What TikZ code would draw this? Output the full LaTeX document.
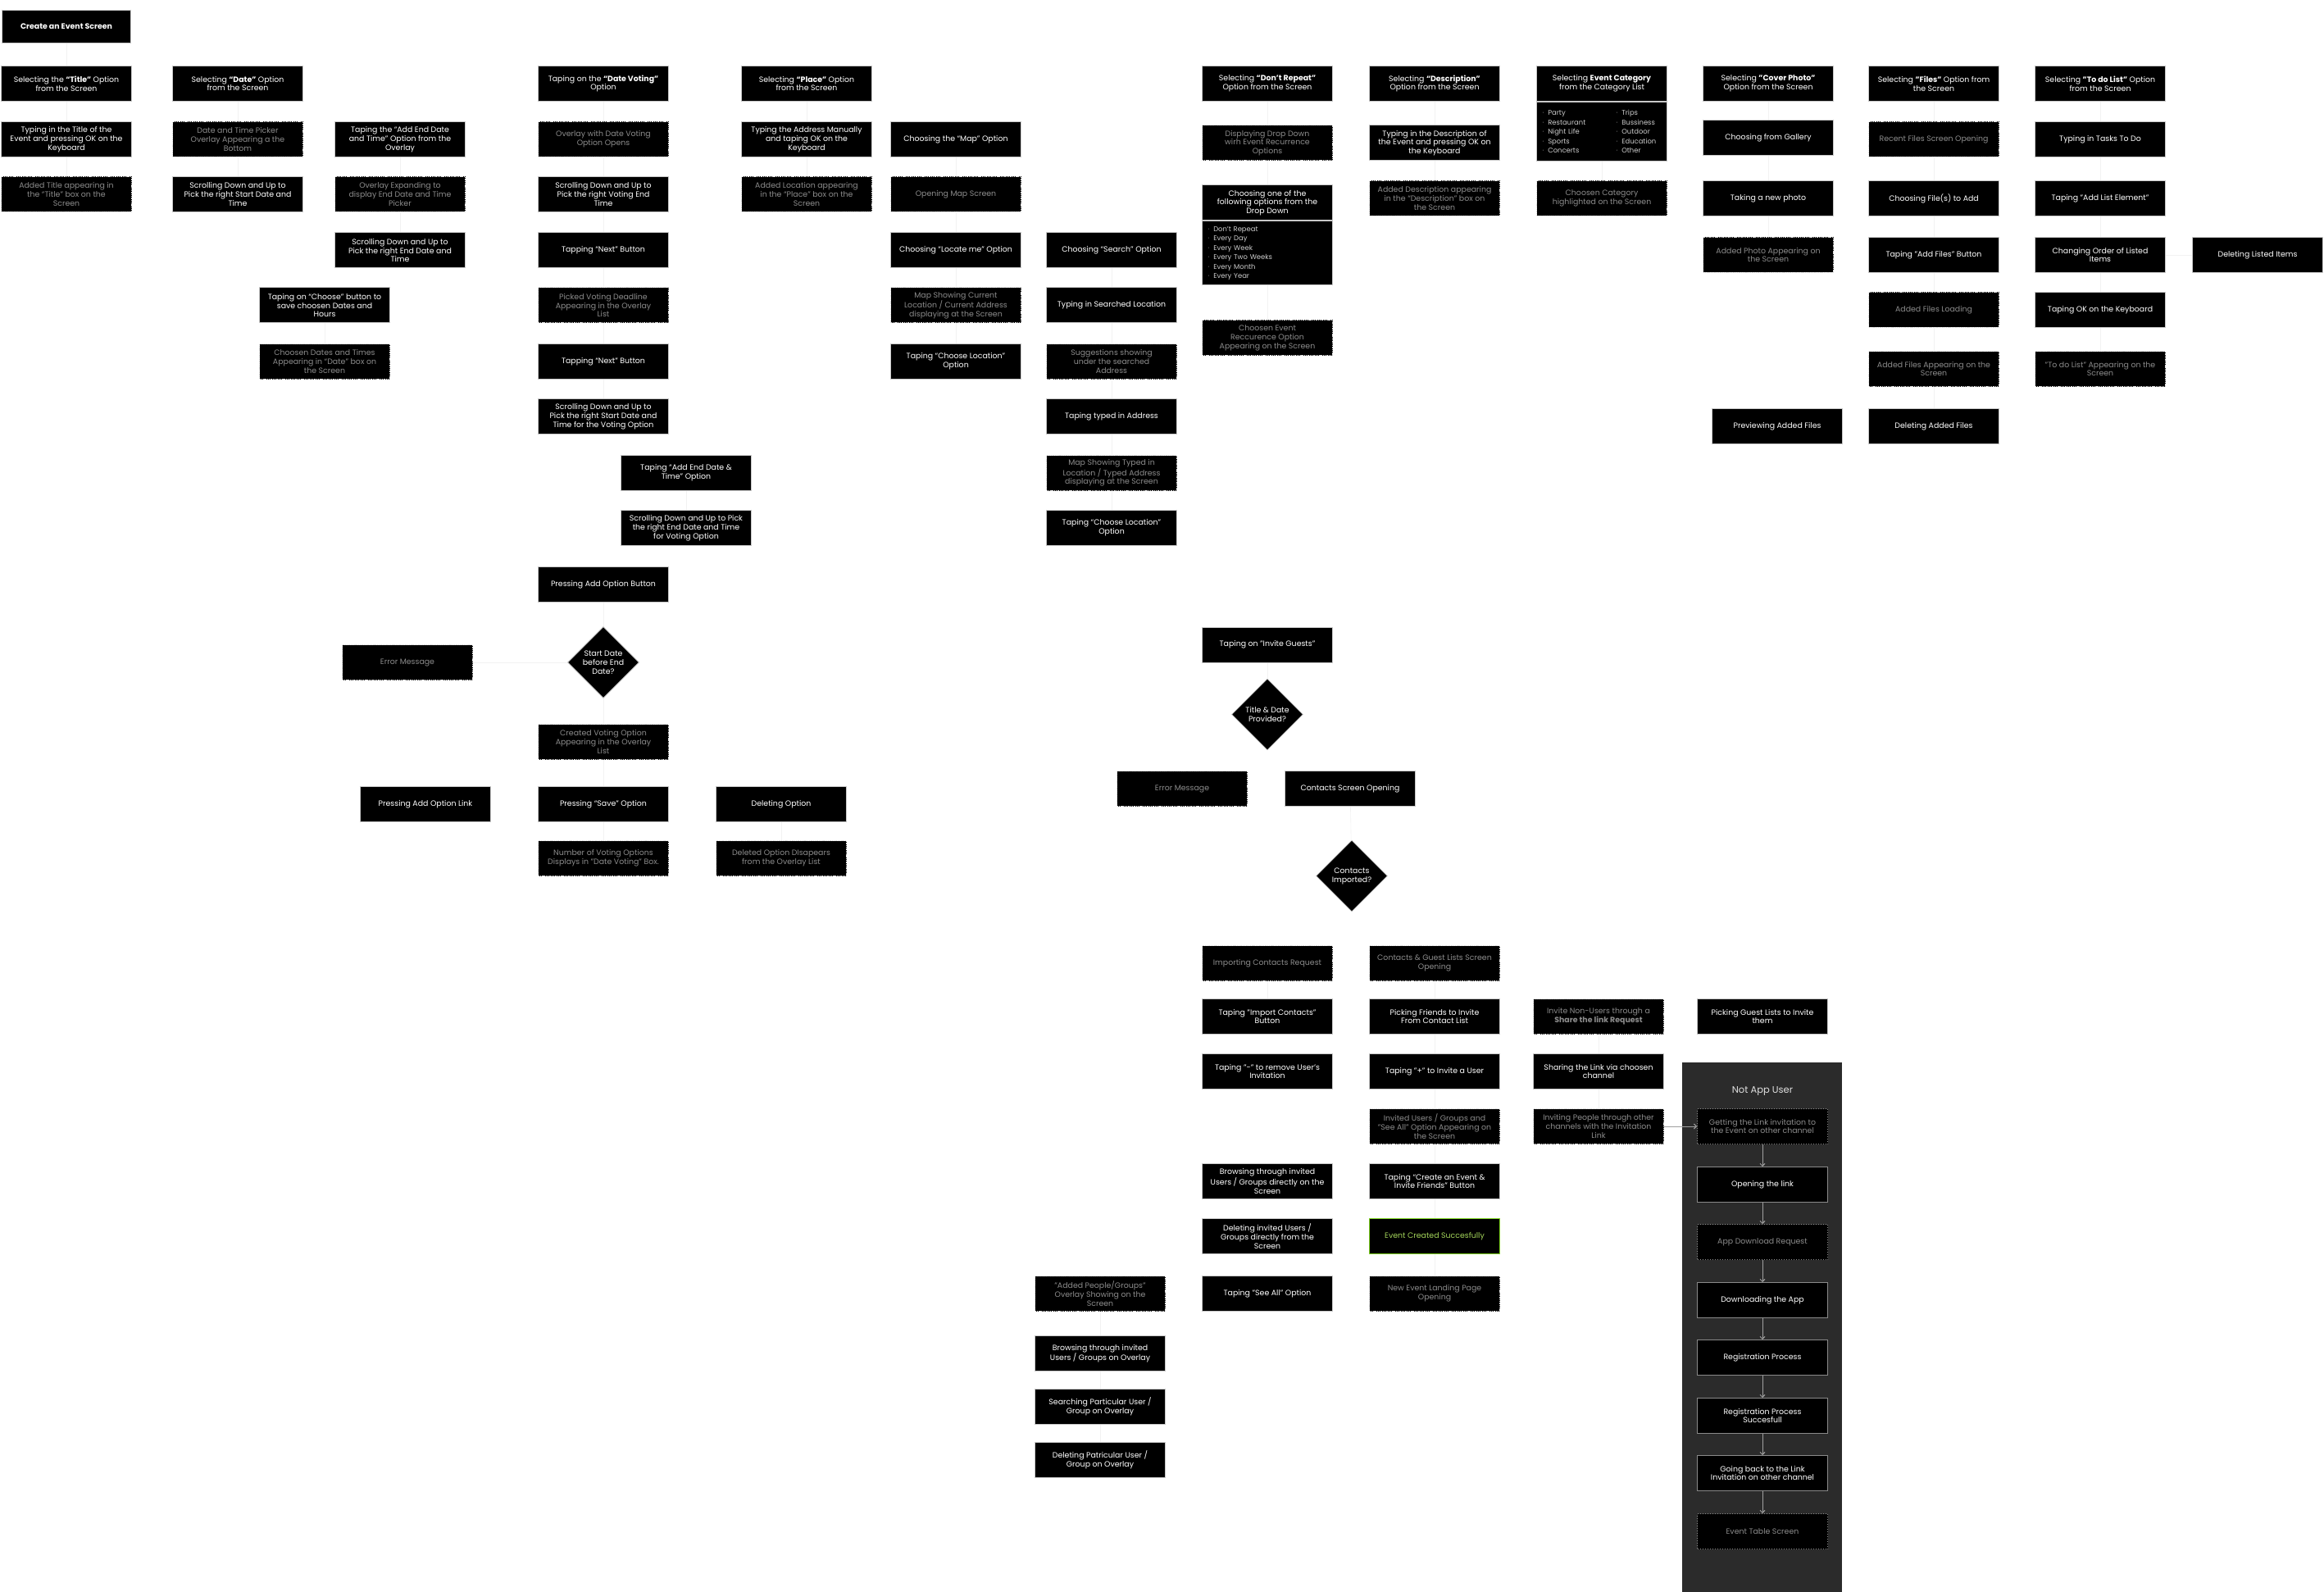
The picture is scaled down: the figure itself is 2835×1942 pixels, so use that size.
\documentclass[tikz,border=0pt]{standalone}
\usepackage{fontspec}
\setmainfont{Poppins}
\usetikzlibrary{shapes.geometric,positioning,arrows.meta}

\definecolor{boxline}{HTML}{C8C8C8}
\definecolor{notetext}{HTML}{8C8C8C}
\definecolor{okline}{HTML}{7ED321}
\definecolor{oktext}{HTML}{A3D45A}
\definecolor{panelfill}{HTML}{2B2B2B}
\definecolor{panelline}{HTML}{8A8A8A}
\definecolor{flowgray}{HTML}{A0A0A0}

\newcommand\boxfont{\fontsize{9.4}{10.8}\selectfont}
\newcommand\listfont{\fontsize{8.4}{11.5}\selectfont}
\newcommand\dotitem{{\color{notetext}·}\hspace{5pt}}

\tikzset{
  stepbox/.style={draw=boxline, fill=black, line width=1pt, text=white,
    minimum width=159pt, minimum height=43pt, inner sep=1pt,
    align=center, font=\boxfont},
  notebox/.style={stepbox, draw=white!88!black, dash pattern=on 1.4pt off 0.9pt, text=notetext},
  okbox/.style={stepbox, draw=okline, text=oktext},
  listbox/.style={stepbox, text=white!80!black, text width=145pt, align=left,
    inner xsep=7pt, font=\listfont},
  askdiamond/.style={diamond, aspect=1, fill=black, draw=boxline, line width=0.6pt,
    text=white, minimum width=87pt, minimum height=87pt, inner sep=-3pt,
    align=center, font=\boxfont},
  panelbox/.style={stepbox, draw=panelline},
  paneldot/.style={panelbox, dotted, text=notetext},
  faint/.style={draw=black!5, line width=0.6pt},
  flow/.style={draw=flowgray, line width=1pt, -{Straight Barb[length=3pt]}}
}

\begin{document}
\begin{tikzpicture}[x=1pt,y=-1pt]
  \useasboundingbox (0,0) rectangle (2835,1942);

  % title, date and end date
  \node[stepbox, minimum width=157pt, minimum height=40pt, font=\boxfont\bfseries] (create) at (81,32.5) {Create an Event Screen};
  \node[stepbox] (title) at (81,102) {Selecting the \textbf{“Title”} Option\\from the Screen};
  \node[stepbox] (titletype) at (81,170) {Typing in the Title of the\\Event and pressing OK on the\\Keyboard};
  \node[notebox] (titleadded) at (81,237) {Added Title appearing in\\the “Title” box on the\\Screen};
  \node[stepbox] (date) at (290,102) {Selecting \textbf{“Date”} Option\\from the Screen};
  \node[notebox] (datepicker) at (290,170) {Date and Time Picker\\Overlay Appearing a the\\Bottom};
  \node[stepbox] (startpick) at (290,237) {Scrolling Down and Up to\\Pick the right Start Date and\\Time};
  \node[stepbox] (endopt) at (488,170) {Taping the “Add End Date\\and Time” Option from the\\Overlay};
  \node[notebox] (endexpand) at (488,237) {Overlay Expanding to\\display End Date and Time\\Picker};
  \node[stepbox] (endpick) at (488,305.5) {Scrolling Down and Up to\\Pick the right End Date and\\Time};
  \node[stepbox] (choose) at (396,372.5) {Taping on “Choose” button to\\save choosen Dates and\\Hours};
  \node[notebox] (datesadded) at (396,441) {Choosen Dates and Times\\Appearing in “Date” box on\\the Screen};

  % date voting
  \node[stepbox] (voting) at (736,102) {Taping on the \textbf{“Date Voting”}\\Option};
  \node[notebox] (votingoverlay) at (736,170) {Overlay with Date Voting\\Option Opens};
  \node[stepbox] (votingend) at (736,237) {Scrolling Down and Up to\\Pick the right Voting End\\Time};
  \node[stepbox] (next1) at (736,305.5) {Tapping “Next” Button};
  \node[notebox] (deadline) at (736,372.5) {Picked Voting Deadline\\Appearing in the Overlay\\List};
  \node[stepbox] (next2) at (736,441) {Tapping “Next” Button};
  \node[stepbox] (votestart) at (736,508) {Scrolling Down and Up to\\Pick the right Start Date and\\Time for the Voting Option};
  \node[stepbox] (voteendopt) at (837,577) {Taping “Add End Date \&\\Time” Option};
  \node[stepbox] (voteendpick) at (837,644) {Scrolling Down and Up to Pick\\the right End Date and Time\\for Voting Option};
  \node[stepbox] (addbtn) at (736,713) {Pressing Add Option Button};
  \node[askdiamond] (datecheck) at (736,808) {Start Date\\before End\\Date?};
  \node[notebox] (errdate) at (497,808) {Error Message};
  \node[notebox] (created) at (736,905) {Created Voting Option\\Appearing in the Overlay\\List};
  \node[stepbox] (addlink) at (519,981) {Pressing Add Option Link};
  \node[stepbox] (save) at (736,981) {Pressing “Save” Option};
  \node[notebox] (count) at (736,1047) {Number of Voting Options\\Displays in "Date Voting" Box.};
  \node[stepbox] (delopt) at (953,981) {Deleting Option};
  \node[notebox] (deldone) at (953,1047) {Deleted Option DIsapears\\from the Overlay List};

  % place
  \node[stepbox] (place) at (984,102) {Selecting \textbf{“Place”} Option\\from the Screen};
  \node[stepbox] (manual) at (984,170) {Typing the Address Manually\\and taping OK on the\\Keyboard};
  \node[notebox] (placeadded) at (984,237) {Added Location appearing\\in the “Place” box on the\\Screen};
  \node[stepbox] (map) at (1166,170) {Choosing the “Map” Option};
  \node[notebox] (mapopen) at (1166,237) {Opening Map Screen};
  \node[stepbox] (locate) at (1166,305.5) {Choosing “Locate me” Option};
  \node[notebox] (mapcurrent) at (1166,372.5) {Map Showing Current\\Location / Current Address\\displaying at the Screen};
  \node[stepbox] (chooseloc1) at (1166,441) {Taping “Choose Location”\\Option};
  \node[stepbox] (search) at (1356,305.5) {Choosing “Search” Option};
  \node[stepbox] (typeloc) at (1356,372.5) {Typing in Searched Location};
  \node[notebox] (suggest) at (1356,441) {Suggestions showing\\under the searched\\Address};
  \node[stepbox] (typedaddr) at (1356,508) {Taping typed in Address};
  \node[notebox] (maptyped) at (1356,577) {Map Showing Typed in\\Location / Typed Address\\displaying at the Screen};
  \node[stepbox] (chooseloc2) at (1356,644) {Taping “Choose Location”\\Option};

  % repeat, description, category
  \node[stepbox] (repeat) at (1546,102) {Selecting \textbf{“Don’t Repeat”}\\Option from the Screen};
  \node[notebox] (dropdown) at (1546,174.5) {Displaying Drop Down\\wirh Event Recurrence\\Options};
  \node[stepbox] (pickrepeat) at (1546,247.5) {Choosing one of the\\following options from the\\Drop Down};
  \node[listbox, minimum height=78pt, below=0pt of pickrepeat] (repeatlist) {\dotitem Don’t Repeat\\\dotitem Every Day\\\dotitem Every Week\\\dotitem Every Two Weeks\\\dotitem Every Month\\\dotitem Every Year};
  \node[notebox] (repeatdone) at (1546,412) {Choosen Event\\Reccurence Option\\Appearing on the Screen};
  \node[stepbox] (desc) at (1750,102) {Selecting \textbf{“Description”}\\Option from the Screen};
  \node[stepbox] (desctype) at (1750,174.5) {Typing in the Description of\\the Event and pressing OK on\\the Keyboard};
  \node[notebox] (descadded) at (1750,242) {Added Description appearing\\in the “Description” box on\\the Screen};
  \node[stepbox] (category) at (1954,102) {Selecting \textbf{Event Category}\\from the Category List};
  \node[listbox, minimum height=72pt, below=0pt of category] (catlist) {%
    \makebox[90pt][l]{\dotitem Party}\dotitem Trips\\
    \makebox[90pt][l]{\dotitem Restaurant}\dotitem Bussiness\\
    \makebox[90pt][l]{\dotitem Night Life}\dotitem Outdoor\\
    \makebox[90pt][l]{\dotitem Sports}\dotitem Education\\
    \makebox[90pt][l]{\dotitem Concerts}\dotitem Other};
  \node[notebox] (catdone) at (1954,242) {Choosen Category\\highlighted on the Screen};

  % cover photo, files, to do list
  \node[stepbox] (cover) at (2157,102) {Selecting \textbf{"Cover Photo"}\\Option from the Screen};
  \node[stepbox] (gallery) at (2157,168) {Choosing from Gallery};
  \node[stepbox] (newphoto) at (2157,242) {Taking a new photo};
  \node[notebox] (photoadded) at (2157,311) {Added Photo Appearing on\\the Screen};
  \node[stepbox] (preview) at (2168,520) {Previewing Added Files};
  \node[stepbox] (files) at (2359,102) {Selecting \textbf{"Files"} Option from\\the Screen};
  \node[notebox] (recent) at (2359,170) {Recent Files Screen Opening};
  \node[stepbox] (pickfiles) at (2359,242) {Choosing File(s) to Add};
  \node[stepbox] (addfiles) at (2359,311) {Taping "Add Files" Button};
  \node[notebox] (loading) at (2359,378) {Added Files Loading};
  \node[notebox] (filesadded) at (2359,450) {Added Files Appearing on the\\Screen};
  \node[stepbox] (delfiles) at (2359,520) {Deleting Added Files};
  \node[stepbox] (todo) at (2562,102) {Selecting \textbf{"To do List"} Option\\from the Screen};
  \node[stepbox] (tasks) at (2562,170) {Typing in Tasks To Do};
  \node[stepbox] (addelem) at (2562,242) {Taping "Add List Element"};
  \node[stepbox] (reorder) at (2562,311) {Changing Order of Listed\\Items};
  \node[stepbox] (todook) at (2562,378) {Taping OK on the Keyboard};
  \node[notebox] (todoadded) at (2562,450) {"To do List" Appearing on the\\Screen};
  \node[stepbox] (dellist) at (2754,311) {Deleting Listed Items};

  % invite guests
  \node[stepbox] (invite) at (1546,786.5) {Taping on "Invite Guests"};
  \node[askdiamond] (titlecheck) at (1546,871.5) {Title \& Date\\Provided?};
  \node[notebox] (errinvite) at (1442,962) {Error Message};
  \node[stepbox] (contacts) at (1647,962) {Contacts Screen Opening};
  \node[askdiamond] (imported) at (1649,1068.5) {Contacts\\Imported?};
  \node[notebox] (importreq) at (1546,1175) {Importing Contacts Request};
  \node[stepbox] (importbtn) at (1546,1240) {Taping "Import Contacts"\\Button};
  \node[stepbox] (remove) at (1546,1307) {Taping "-" to remove User’s\\Invitation};
  \node[stepbox] (browse) at (1546,1441) {Browsing through invited\\Users / Groups directly on the\\Screen};
  \node[stepbox] (deldirect) at (1546,1508) {Deleting invited Users /\\Groups directly from the\\Screen};
  \node[stepbox] (seeall) at (1546,1578) {Taping "See All" Option};
  \node[notebox] (guestlists) at (1750,1175) {Contacts \& Guest Lists Screen\\Opening};
  \node[stepbox] (pickfriends) at (1750,1240) {Picking Friends to Invite\\From Contact List};
  \node[stepbox] (plus) at (1750,1307) {Taping "+" to Invite a User};
  \node[notebox] (invited) at (1750,1374) {Invited Users / Groups and\\"See All" Option Appearing on\\the Screen};
  \node[stepbox] (createbtn) at (1750,1441) {Taping “Create an Event \&\\Invite Friends” Button};
  \node[okbox] (success) at (1750,1508) {Event Created Succesfully};
  \node[notebox] (landing) at (1750,1578) {New Event Landing Page\\Opening};
  \node[notebox] (nonusers) at (1950,1240) {Invite Non-Users through a\\\textbf{Share the link Request}};
  \node[stepbox] (share) at (1950,1307) {Sharing the Link via choosen\\channel};
  \node[notebox] (others) at (1950,1374) {Inviting People through other\\channels with the Invitation\\Link};
  \node[stepbox] (guestpick) at (2150,1240) {Picking Guest Lists to Invite\\them};
  \node[notebox] (overlay) at (1342,1578) {"Added People/Groups"\\Overlay Showing on the\\Screen};
  \node[stepbox] (browseov) at (1342,1651) {Browsing through invited\\Users / Groups on Overlay};
  \node[stepbox] (searchov) at (1342,1716) {Searching Particular User /\\Group on Overlay};
  \node[stepbox] (delov) at (1342,1781) {Deleting Patricular User /\\Group on Overlay};

  % not app user
  \fill[panelfill] (2052,1296) rectangle (2247,1942);
  \node[text=white!88!black, font=\fontsize{11.5}{13}\selectfont] (paneltitle) at (2150,1331) {Not App User};
  \node[paneldot] (link1) at (2150,1374) {Getting the Link invitation to\\the Event on other channel};
  \node[panelbox] (openlink) at (2150,1445) {Opening the link};
  \node[paneldot] (dlreq) at (2150,1515) {App Download Request};
  \node[panelbox] (download) at (2150,1586) {Downloading the App};
  \node[panelbox] (register) at (2150,1656) {Registration Process};
  \node[panelbox] (regok) at (2150,1727) {Registration Process\\Succesfull};
  \node[panelbox] (goback) at (2150,1797) {Going back to the Link\\Invitation on other channel};
  \node[paneldot] (eventtable) at (2150,1868) {Event Table Screen};

  \foreach \a/\b in {link1/openlink, openlink/dlreq, dlreq/download, download/register,
      register/regok, regok/goback, goback/eventtable}
    \draw[flow] (\a) -- (\b);
  \draw[flow] (others) -- (link1);

  % faint links
  \foreach \a/\b in {create/title, title/titletype, titletype/titleadded, date/datepicker,
      datepicker/startpick, endopt/endexpand, endexpand/endpick, choose/datesadded,
      voting/votingoverlay, votingoverlay/votingend, votingend/next1, next1/deadline,
      deadline/next2, next2/votestart, voteendopt/voteendpick, addbtn/datecheck,
      datecheck/errdate, datecheck/created, created/save, save/count, delopt/deldone,
      place/manual, manual/placeadded, map/mapopen, mapopen/locate, locate/mapcurrent,
      mapcurrent/chooseloc1, search/typeloc, typeloc/suggest, suggest/typedaddr,
      typedaddr/maptyped, maptyped/chooseloc2, repeat/dropdown, dropdown/pickrepeat,
      repeatlist/repeatdone, desc/desctype, desctype/descadded, catlist/catdone,
      cover/gallery, gallery/newphoto, newphoto/photoadded, files/recent, recent/pickfiles,
      pickfiles/addfiles, addfiles/loading, loading/filesadded, filesadded/delfiles,
      todo/tasks, tasks/addelem, addelem/reorder, reorder/todook, todook/todoadded,
      reorder/dellist, invite/titlecheck, contacts/imported, importreq/importbtn,
      guestlists/pickfriends, pickfriends/plus, plus/invited, invited/createbtn,
      createbtn/success, success/landing, nonusers/share, share/others,
      overlay/browseov, browseov/searchov, searchov/delov}
    \draw[faint] (\a) -- (\b);
\end{tikzpicture}
\end{document}
